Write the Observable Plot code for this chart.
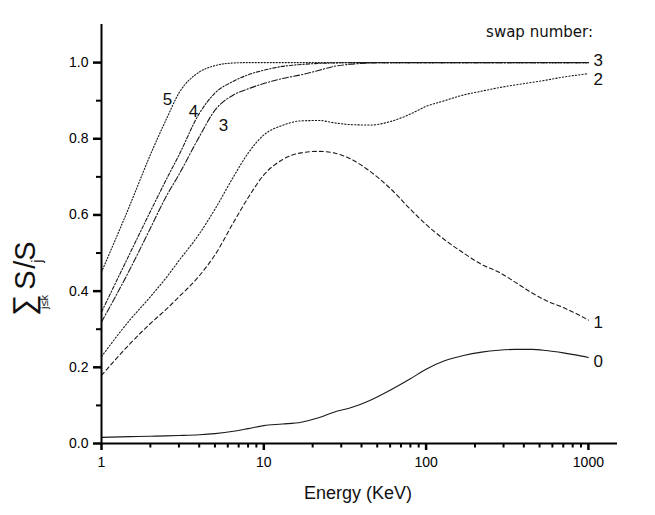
<!DOCTYPE html>
<html>
<head>
<meta charset="utf-8">
<script src="https://cdn.jsdelivr.net/npm/d3@7"></script>
<script src="https://cdn.jsdelivr.net/npm/@observablehq/plot@0.6"></script>
<style>
  html, body { margin: 0; padding: 0; background: #fff; }
  #chart { width: 655px; height: 515px; }
</style>
</head>
<body>
<div id="chart"></div>
<script>
// ---- data ----
const energy = [1, 1.5, 2, 2.5, 3, 4, 5, 6.5, 8, 10, 13, 17, 22, 27, 35, 45, 60, 80, 100, 130, 170, 220, 280, 350, 450, 550, 700, 850, 1000];
const swap0 = [0.016, 0.018, 0.019, 0.020, 0.021, 0.023, 0.026, 0.032, 0.039, 0.047, 0.051, 0.056, 0.068, 0.082, 0.095, 0.113, 0.140, 0.170, 0.195, 0.217, 0.231, 0.240, 0.245, 0.247, 0.247, 0.244, 0.238, 0.232, 0.226];
const swap1 = [0.179, 0.262, 0.315, 0.352, 0.385, 0.440, 0.495, 0.580, 0.645, 0.705, 0.745, 0.763, 0.767, 0.763, 0.745, 0.715, 0.670, 0.615, 0.575, 0.535, 0.500, 0.470, 0.450, 0.425, 0.395, 0.375, 0.357, 0.340, 0.324];
const swap2 = [0.228, 0.325, 0.385, 0.435, 0.480, 0.550, 0.615, 0.700, 0.762, 0.810, 0.835, 0.847, 0.848, 0.842, 0.837, 0.836, 0.845, 0.865, 0.885, 0.900, 0.915, 0.925, 0.934, 0.941, 0.948, 0.954, 0.962, 0.967, 0.971];
const swap3 = [0.319, 0.458, 0.565, 0.648, 0.706, 0.805, 0.875, 0.915, 0.931, 0.945, 0.958, 0.968, 0.980, 0.990, 0.996, 0.999, 1, 1, 1, 1, 1, 1, 1, 1, 1, 1, 1, 1, 1];
const swap4 = [0.345, 0.500, 0.609, 0.692, 0.757, 0.866, 0.920, 0.951, 0.968, 0.980, 0.990, 0.995, 0.998, 0.999, 1, 1, 1, 1, 1, 1, 1, 1, 1, 1, 1, 1, 1, 1, 1];
const swap5 = [0.450, 0.627, 0.758, 0.850, 0.920, 0.975, 0.992, 0.999, 1, 1, 1, 1, 1, 1, 1, 1, 1, 1, 1, 1, 1, 1, 1, 1, 1, 1, 1, 1, 1];
const seriesValues = [swap0, swap1, swap2, swap3, swap4, swap5];
const seriesDash = [null, "4,3", "1.3,2", "6,2,1.3,2", "3.5,1.8,1.3,1.8", "1.2,1.8"];

const yTicks = [0, 0.2, 0.4, 0.6, 0.8, 1.0];
const yMinorTicks = [0.1, 0.3, 0.5, 0.7, 0.9];
const xTicks = [1, 10, 100, 1000];
const xMinorTicks = [2,3,4,5,6,7,8,9,20,30,40,50,60,70,80,90,200,300,400,500,600,700,800,900];

// curve labels inside the plot (data coordinates)
const innerLabels = ["5", "4", "3"];
const innerLabelE = [2.55, 3.69, 5.64];
const innerLabelV = [0.903, 0.871, 0.834];
// labels at the right end of the curves
const endLabels = ["3", "2", "1", "0"];
const endLabelV = [1.005, 0.955, 0.318, 0.214];

// ---- build ----
const FONT = "'Liberation Sans', Arial, sans-serif";
const lineMarks = seriesValues.map((vals, i) =>
  Plot.line(energy.map((e, k) => ({E: e, v: vals[k]})), {
    x: "E", y: "v",
    stroke: "#1a1a1a",
    strokeWidth: 1.1,
    strokeDasharray: seriesDash[i] || undefined,
    curve: "monotone-x"
  })
);

const chart = Plot.plot({
  width: 655,
  height: 515,
  marginLeft: 101,
  marginRight: 38,
  marginTop: 24,
  marginBottom: 72,
  style: {fontFamily: FONT},
  x: {type: "log", domain: [1, 1511], label: null},
  y: {domain: [0, 1.1], label: null},
  marks: [
    ...lineMarks,
    Plot.text(innerLabels, {
      x: (d, i) => innerLabelE[i], y: (d, i) => innerLabelV[i], text: d => d,
      fontSize: 17, fill: "#111"
    }),
    Plot.text(endLabels, {
      x: () => 1000, y: (d, i) => endLabelV[i], text: d => d,
      fontSize: 17, fill: "#111", textAnchor: "start", dx: 5
    }),
    Plot.axisY(yTicks, {tickSize: 8, tickPadding: 5, tickFormat: d3.format(".1f"),
      fontSize: 14, strokeWidth: 2.5, stroke: "black", label: null}),
    Plot.axisY(yMinorTicks, {tickSize: 5, tickFormat: () => "", strokeWidth: 2, stroke: "black", label: null}),
    Plot.axisX(xTicks, {tickSize: 7, tickPadding: 7, tickFormat: d => String(d),
      fontSize: 14, strokeWidth: 2.5, stroke: "black", label: null}),
    Plot.axisX(xMinorTicks, {tickSize: 4.5, tickFormat: () => "", strokeWidth: 2, stroke: "black", label: null}),
    Plot.ruleY([0], {stroke: "black", strokeWidth: 2}),
    Plot.ruleX([1], {stroke: "black", strokeWidth: 2})
  ]
});

const svg = d3.select(chart);
// x axis title
svg.append("text")
  .attr("x", 358).attr("y", 499)
  .attr("text-anchor", "middle")
  .attr("font-family", FONT).attr("font-size", 18).attr("fill", "#111")
  .text("Energy (KeV)");
// legend title
svg.append("text")
  .attr("x", 593).attr("y", 37)
  .attr("text-anchor", "end")
  .attr("font-family", "'DejaVu Sans', Verdana, sans-serif").attr("font-size", 15).attr("fill", "#111")
  .text("swap number:");
// y axis title: sum_{j<=k} S_j / S
const g = svg.append("g").attr("transform", "translate(35,0) rotate(-90)")
  .attr("font-family", FONT).attr("fill", "#111");
g.append("text").attr("x", -305).attr("y", -1).attr("font-size", 30).text("∑");
g.append("text").attr("x", -302).attr("y", 13).attr("font-size", 11).text("j≤k");
g.append("text").attr("x", -280).attr("y", 0).attr("font-size", 29).text("S");
g.append("text").attr("x", -261).attr("y", 7).attr("font-size", 15).text("j");
g.append("text").attr("x", -255).attr("y", 0).attr("font-size", 29).text("/S");

document.getElementById("chart").appendChild(chart);
</script>
</body>
</html>
